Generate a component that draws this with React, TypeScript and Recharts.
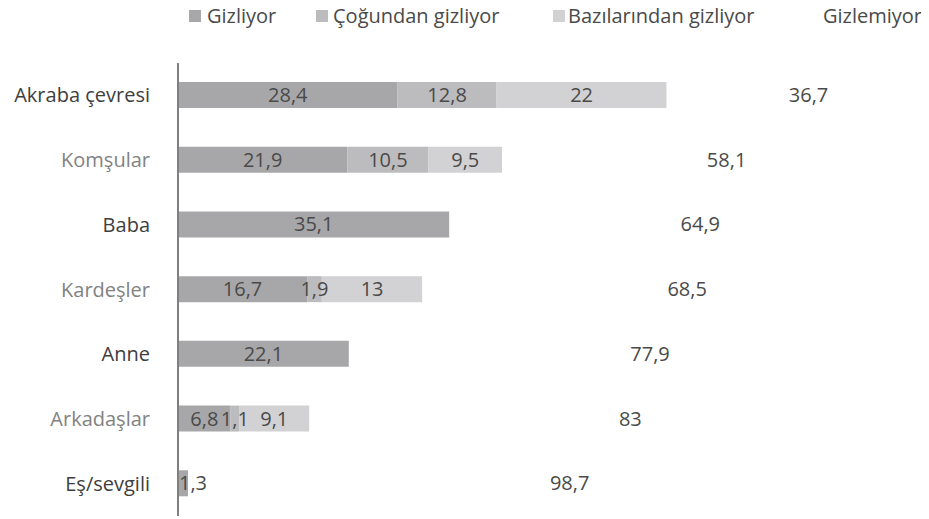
import { BarChart, Bar, XAxis, YAxis, LabelList, Legend } from 'recharts'

const categories = [
  'Akraba çevresi',
  'Komşular',
  'Baba',
  'Kardeşler',
  'Anne',
  'Arkadaşlar',
  'Eş/sevgili',
]
const gizliyor = [28.4, 21.9, 35.1, 16.7, 22.1, 6.8, 1.3]
const cogundan = [12.8, 10.5, 0, 1.9, 0, 1.1, 0]
const bazilarindan = [22, 9.5, 0, 13, 0, 9.1, 0]
const gizlemiyor = [36.7, 58.1, 64.9, 68.5, 77.9, 83, 98.7]

const seriesNames = ['Gizliyor', 'Çoğundan gizliyor', 'Bazılarından gizliyor', 'Gizlemiyor']
const seriesColors = ['#a7a7a9', '#bcbcbe', '#d2d2d4', '#ffffff']

const data = categories.map((name, i) => ({
  name,
  s1: gizliyor[i],
  s2: cogundan[i],
  s3: bazilarindan[i],
  s4: gizlemiyor[i],
}))

const FONT = '"Open Sans", sans-serif'
const TEXT = '#4a4a4a'
const PLOT_LEFT = 170

const fmt = (v: any) => (v ? String(v).replace('.', ',') : '')

const CategoryTick = ({ x, y, payload, index }: any) => (
  <text
    x={x}
    y={y}
    dy={7}
    textAnchor="end"
    fontFamily={FONT}
    fontSize={20}
    fill={index % 2 === 0 ? '#3e3e3e' : '#828282'}
  >
    {payload.value}
  </text>
)

// value label; a label that would cross the axis starts at the bar instead
const ValueLabel = ({ x, y, width, height, value }: any) => {
  const s = fmt(value)
  if (!s) return null
  const textW = s.length * 10
  const cx = x + width / 2
  const narrow = cx - textW / 2 < PLOT_LEFT
  return (
    <text
      x={narrow ? PLOT_LEFT + 1 : cx}
      y={y + height / 2}
      dy={7}
      textAnchor={narrow ? 'start' : 'middle'}
      fontFamily={FONT}
      fontSize={20}
      fill={TEXT}
    >
      {s}
    </text>
  )
}

// legend items sit at fixed spots, like in the original
const legendX = [
  { box: 189, text: 207 },
  { box: 316, text: 333 },
  { box: 553, text: 568 },
  { box: null, text: 823 },
]

const TopLegend = () => (
  <div style={{ position: 'relative', width: 929, height: 28 }}>
    {seriesNames.map((n, i) => (
      <div key={n}>
        {legendX[i].box !== null && (
          <div
            style={{
              position: 'absolute',
              left: legendX[i].box as number,
              top: 10,
              width: 12,
              height: 12,
              background: seriesColors[i],
            }}
          />
        )}
        <div
          style={{
            position: 'absolute',
            left: legendX[i].text,
            top: 2,
            fontFamily: FONT,
            fontSize: 20,
            lineHeight: '27px',
            color: TEXT,
            whiteSpace: 'nowrap',
          }}
        >
          {n}
        </div>
      </div>
    ))}
  </div>
)

export default function App() {
  return (
    <div style={{ width: 929, height: 519, overflow: 'hidden', margin: '-8px -8px 0' }}>
      <div style={{ marginLeft: 8 }}>
        <BarChart
          width={944}
          height={519}
          data={data}
          layout="vertical"
          margin={{ top: 63, right: 0, bottom: 3, left: 0 }}
          barSize={26}
        >
          <XAxis type="number" domain={[0, 100]} hide />
          <YAxis
            type="category"
            dataKey="name"
            width={PLOT_LEFT}
            tickLine={false}
            tickSize={0}
            tickMargin={28}
            axisLine={{ stroke: '#7f7f7f', strokeWidth: 2 }}
            tick={<CategoryTick />}
          />
          <Legend
            verticalAlign="middle"
            align="center"
            layout="horizontal"
            wrapperStyle={{ top: 0, left: -8, width: 929 }}
            content={<TopLegend />}
          />
          {['s1', 's2', 's3', 's4'].map((k, i) => (
            <Bar
              key={k}
              dataKey={k}
              name={seriesNames[i]}
              stackId="a"
              fill={seriesColors[i]}
              isAnimationActive={false}
            >
              <LabelList dataKey={k} content={<ValueLabel />} />
            </Bar>
          ))}
        </BarChart>
      </div>
    </div>
  )
}
